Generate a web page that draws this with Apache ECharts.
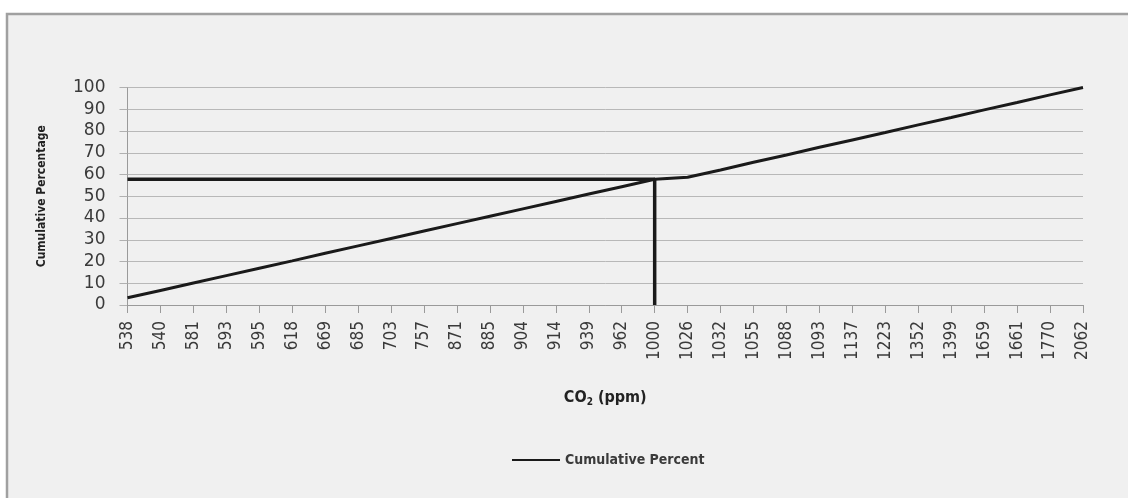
<!DOCTYPE html>
<html>
<head>
<meta charset="utf-8">
<script src="https://cdn.jsdelivr.net/npm/echarts@6/dist/echarts.min.js"></script>
<style>
html,body{margin:0;padding:0;background:#fff;}
#c{width:1128px;height:498px;}
</style>
</head>
<body>
<div id="c"></div>
<script>
var categories = ['538','540','581','593','595','618','669','685','703','757','871','885','904','914','939','962','1000','1026','1032','1055','1088','1093','1137','1223','1352','1399','1659','1661','1770','2062'];
var cumulativePercent = [3.3,6.7,10.1,13.5,16.9,20.3,23.8,27.2,30.6,34.0,37.4,40.8,44.2,47.6,51.0,54.4,57.8,58.7,62.1,65.6,69.0,72.5,75.9,79.3,82.8,86.2,89.7,93.1,96.6,100];
var refCategory = '1000';
var refValue = 57.8;
var yTicks = {min: 0, max: 100, interval: 10};

var chart = echarts.init(document.getElementById('c'), null, {renderer: 'canvas'});
var labelColor = '#3a3a3a';
chart.setOption({
  backgroundColor: '#ffffff',
  animation: false,
  graphic: [{
    type: 'rect', z: -10, silent: true,
    shape: {x: 7, y: 14, width: 1140, height: 500},
    style: {fill: '#f0f0f0', stroke: '#a0a0a0', lineWidth: 2.5}
  }],
  grid: {left: 127.5, right: 45, top: 87.5, bottom: 193, containLabel: false},
  legend: {
    data: ['Cumulative Percent'],
    left: 507, top: 448,
    icon: 'rect', itemWidth: 48, itemHeight: 2,
    itemStyle: {color: '#1a1a1a'},
    textStyle: {fontFamily: 'DejaVu Sans Condensed', fontSize: 14, color: '#3a3a3a', fontWeight: 'bold'}
  },
  xAxis: {
    type: 'category',
    data: categories,
    boundaryGap: false,
    name: '{a|CO}{s|2}{a| (ppm)}',
    nameLocation: 'middle',
    nameGap: 84,
    nameTextStyle: {
      rich: {
        a: {fontFamily: 'DejaVu Sans Condensed', fontSize: 16, fontWeight: 'bold', color: '#222'},
        s: {fontFamily: 'DejaVu Sans Condensed', fontSize: 10, fontWeight: 'bold', color: '#222', verticalAlign: 'bottom', padding: [8,0,0,0]}
      }
    },
    axisLine: {lineStyle: {color: '#9a9a9a', width: 1}},
    axisTick: {show: true, length: 8, alignWithLabel: true, lineStyle: {color: '#9a9a9a'}},
    axisLabel: {rotate: 90, margin: 16, interval: 0, fontFamily: 'DejaVu Sans Condensed', fontSize: 17, color: labelColor},
    splitLine: {show: false}
  },
  yAxis: {
    type: 'value',
    min: yTicks.min, max: yTicks.max, interval: yTicks.interval,
    name: 'Cumulative Percentage',
    nameLocation: 'middle',
    nameRotate: 90,
    nameGap: 80,
    nameTextStyle: {fontFamily: 'DejaVu Sans Condensed', fontSize: 12, fontWeight: 'bold', color: '#222'},
    axisLine: {show: true, lineStyle: {color: '#9a9a9a', width: 1}},
    axisTick: {show: true, length: 8, lineStyle: {color: '#b0b0b0'}},
    axisLabel: {margin: 22, fontFamily: 'DejaVu Sans', fontSize: 17, color: labelColor},
    splitLine: {show: true, lineStyle: {color: '#b8b8b8', width: 1}}
  },
  series: [
    {
      name: 'Cumulative Percent',
      type: 'line',
      data: cumulativePercent,
      showSymbol: false,
      symbol: 'none',
      lineStyle: {color: '#1a1a1a', width: 3},
      itemStyle: {color: '#1a1a1a'},
      z: 3
    },
    {
      name: 'ref',
      type: 'line',
      data: [[categories[0], refValue], [refCategory, refValue], [refCategory, 0]],
      showSymbol: false,
      symbol: 'none',
      lineStyle: {color: '#1a1a1a', width: 3.5},
      z: 4
    }
  ]
});
</script>
</body>
</html>
